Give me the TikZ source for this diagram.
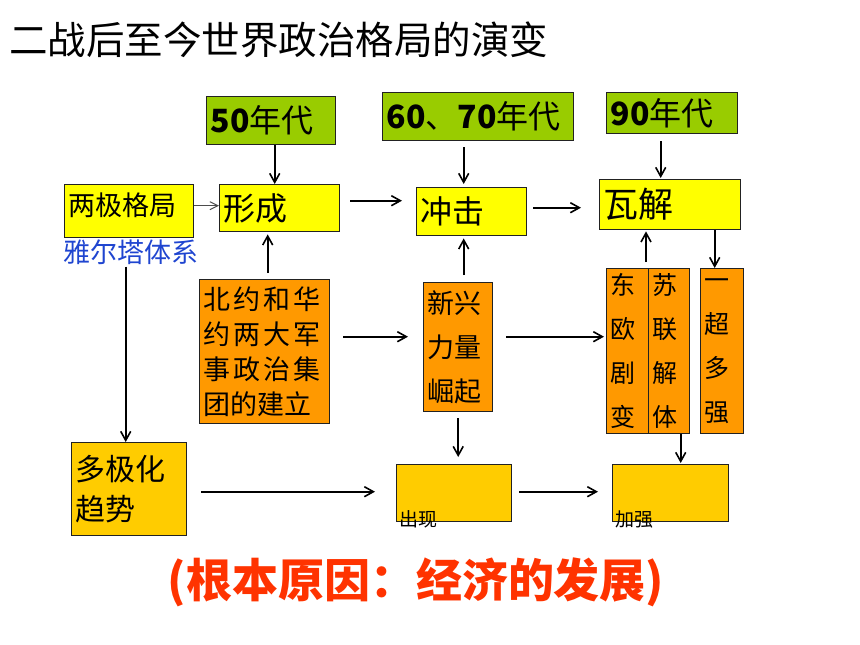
\documentclass[tikz,border=0pt]{standalone}
\usepackage{fontspec}
\setmainfont{Noto Sans CJK SC}
\usetikzlibrary{arrows.meta,calc}
\definecolor{cgreen}{HTML}{99CC00}
\definecolor{cyellow}{HTML}{FFFF00}
\definecolor{corange}{HTML}{FF9900}
\definecolor{cgold}{HTML}{FFCC00}
\definecolor{cred}{HTML}{FF3300}
\definecolor{cblue}{HTML}{1F45D0}
\definecolor{cborder}{HTML}{222222}
\tikzset{
  bx/.style={draw=cborder, line width=1.4pt, anchor=north west, inner xsep=4pt, inner ysep=0pt, align=left},
  arr/.style={draw=black, line width=1.6pt, -{Straight Barb[length=9pt,width=10pt]}},
  thinarr/.style={draw=black!70, line width=1pt, -{Straight Barb[length=8pt,width=8pt]}},
  lbl/.style={anchor=west, inner sep=0pt, font=\fontsize{19}{22}\selectfont},
  f32/.style={font=\fontsize{32}{38}\selectfont},
}
\begin{document}
\begin{tikzpicture}[x=1pt,y=-1pt]
\useasboundingbox (0,0) rectangle (860,645);
% title
\node[anchor=west, inner sep=0pt, font=\fontsize{38.5}{44}\selectfont] (ttl) at (9,40) {二战后至今世界政治格局的演变};
% top row
\node[bx, fill=cgreen, text width=121pt, minimum height=48pt, f32] (n50) at (206,96) {\textbf{50}年代};
\node[bx, fill=cgreen, text width=183pt, minimum height=48pt, f32] (n6070) at (382,92) {\textbf{60}、\textbf{70}年代};
\node[bx, fill=cgreen, text width=123pt, minimum height=41pt, f32] (n90) at (606,92) {\textbf{90}年代};
% middle row
\node[bx, fill=cyellow, text width=121pt, minimum height=53pt, text depth=14pt, font=\fontsize{27}{32}\selectfont] (nliangji) at (64,184) {两极格局};
\node[bx, fill=cyellow, text width=112pt, minimum height=47pt, f32] (nxingcheng) at (219,184) {形成};
\node[bx, fill=cyellow, text width=102pt, minimum height=48pt, f32] (nchongji) at (416,187) {冲击};
\node[bx, fill=cyellow, text width=133pt, minimum height=50pt, font=\fontsize{35}{40}\selectfont] (nwajie) at (599,179) {瓦解};
\node[inner sep=0pt, text=cblue, font=\fontsize{27}{30}\selectfont] (nyalta) at (131,252) {雅尔塔体系};
% orange boxes
\node[bx, fill=corange, text width=122pt, minimum height=144pt, font=\fontsize{27}{35}\selectfont] (nbeiyue) at (199,279)
 {北\hspace{3pt}约\hspace{3pt}和\hspace{3pt}华\\约\hspace{3pt}两\hspace{3pt}大\hspace{3pt}军\\事\hspace{3pt}政\hspace{3pt}治\hspace{3pt}集\\团的建立};
\node[bx, fill=corange, text width=61pt, minimum height=129pt, font=\fontsize{27}{44}\selectfont] (nxinxing) at (423,282) {新兴\\力量\\崛起};
\node[bx, fill=corange, text width=34pt, minimum height=165pt, font=\fontsize{25}{44}\selectfont] (ndongou) at (606,268) {东\\欧\\剧\\变};
\node[bx, fill=corange, text width=33pt, minimum height=165pt, font=\fontsize{25}{44}\selectfont] (nsulian) at (648,268) {苏\\联\\解\\体};
\node[bx, fill=corange, text width=35pt, minimum height=165pt, font=\fontsize{25}{44}\selectfont] (nyichao) at (700,268) {一\\超\\多\\强};
% bottom row
\node[bx, fill=cgold, text width=107pt, minimum height=93pt, font=\fontsize{30}{40}\selectfont] (nduoji) at (71,442) {多极化\\趋势};
\node[bx, fill=cgold, text width=107pt, minimum height=57pt] (nchuxian) at (396,464) {};
\node[bx, fill=cgold, text width=108pt, minimum height=57pt] (njiaqiang) at (612,464) {};
\node[lbl] (lchuxian) at (399,519) {出现};
\node[lbl] (ljiaqiang) at (615,519) {加强};
% reason
\node[inner sep=0pt, text=cred, font=\fontsize{46}{52}\selectfont\bfseries] (reason) at (416,582) {(根本原因：经济的发展)};
% connectors
\coordinate (c1) at ([yshift=5.5pt]nliangji.east);
\draw[thinarr] (c1) -- (c1 -| nxingcheng.west);
\coordinate (c2) at ([yshift=7.5pt]nxingcheng.east);
\draw[arr, shorten <=10pt, shorten >=14pt] (c2) -- (c2 -| nchongji.west);
\coordinate (c3) at ([yshift=4pt]nchongji.east);
\draw[arr, shorten <=6pt, shorten >=18pt] (c3) -- (c3 -| nwajie.west);
\coordinate (c4) at ([xshift=3.5pt]n50.south);
\draw[arr] (c4) -- (c4 |- nxingcheng.north);
\coordinate (c5) at ([xshift=-14.5pt]n6070.south);
\draw[arr, shorten <=6pt, shorten >=3pt] (c5) -- (c5 |- nchongji.north);
\coordinate (c6) at ([xshift=-11.5pt]n90.south);
\draw[arr, shorten <=7pt, shorten >=1pt] (c6) -- (c6 |- nwajie.north);
\coordinate (c7) at ([xshift=3pt]nbeiyue.north);
\draw[arr, shorten <=6pt, shorten >=2pt] (c7) -- (c7 |- nxingcheng.south);
\coordinate (c8) at ([xshift=5.5pt]nxinxing.north);
\draw[arr, shorten <=7pt, shorten >=2pt] (c8) -- (c8 |- nchongji.south);
\coordinate (c9) at ([xshift=-2pt]nsulian.north west);
\draw[arr, shorten <=6pt, shorten >=1pt] (c9) -- (c9 |- nwajie.south);
\coordinate (c10) at ([xshift=-7.5pt]nyichao.north);
\draw[arr] (c10 |- nwajie.south) -- (c10);
\coordinate (c11) at ([yshift=15pt]nbeiyue.east);
\draw[arr, shorten <=13pt, shorten >=15pt] (c11) -- (c11 -| nxinxing.west);
\coordinate (c12) at ([yshift=10.5pt]nxinxing.east);
\draw[arr, shorten <=13pt, shorten >=2pt] (c12) -- (c12 -| ndongou.west);
\coordinate (c13) at ([xshift=-3.5pt]nduoji.north);
\draw[arr, shorten <=2pt] (c13 |- nyalta.south) -- (c13);
\coordinate (c14) at ([yshift=-2.5pt]nduoji.east);
\draw[arr, shorten <=14pt, shorten >=21pt] (c14) -- (c14 -| nchuxian.west);
\draw[arr, shorten <=6pt, shorten >=7pt] (nxinxing.south) -- (nxinxing.south |- nchuxian.north);
\coordinate (c16) at ([yshift=1.5pt]nchuxian.east);
\draw[arr, shorten <=7pt, shorten >=14pt] (c16) -- (c16 -| njiaqiang.west);
\coordinate (c17) at ([xshift=11.5pt]nsulian.south);
\draw[arr, shorten >=1pt] (c17) -- (c17 |- njiaqiang.north);
\end{tikzpicture}
\end{document}
